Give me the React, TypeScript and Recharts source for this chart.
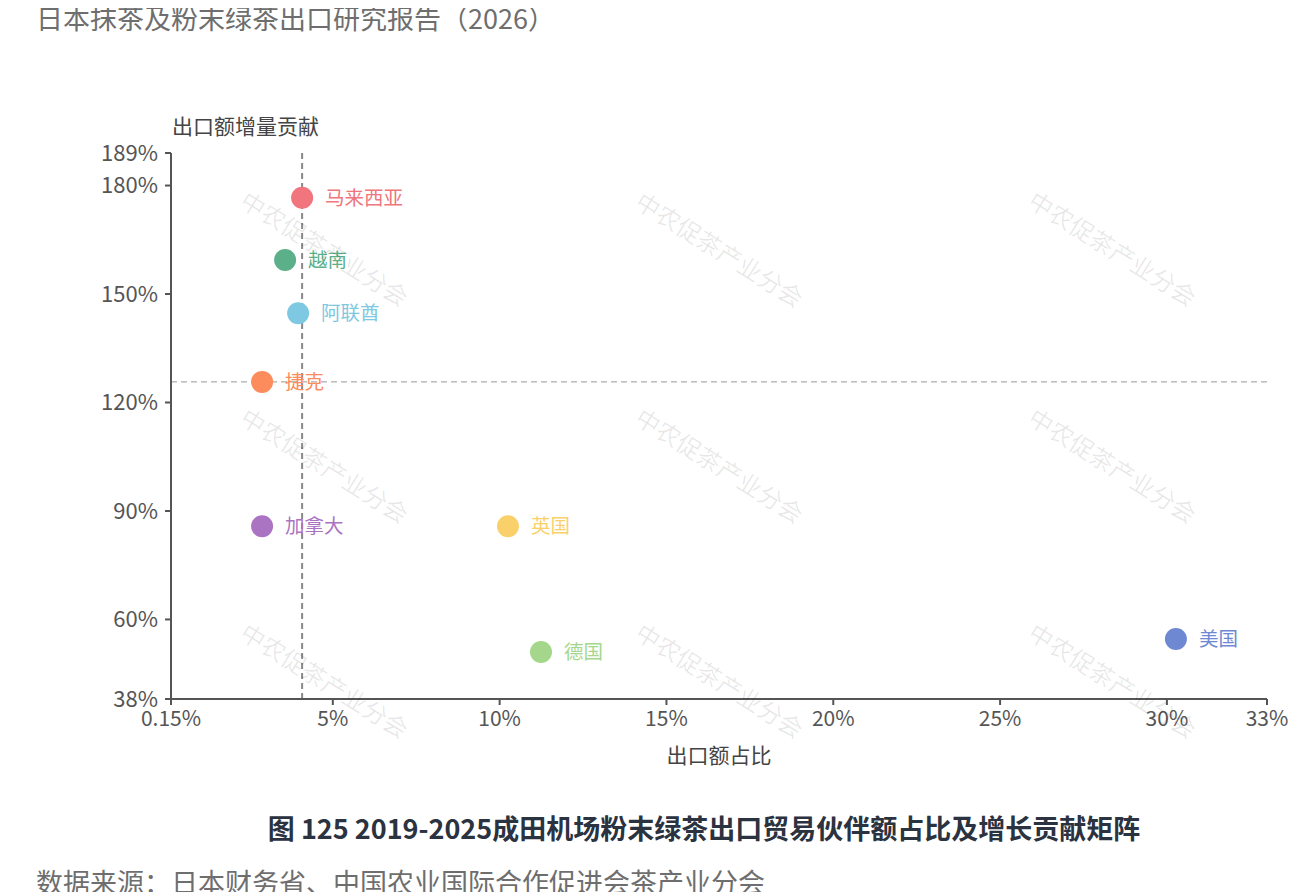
import React from 'react';
import { ScatterChart, Scatter, XAxis, YAxis, ReferenceLine, Cell, LabelList } from 'recharts';

const countries = ['美国', '英国', '德国', '加拿大', '马来西亚', '越南', '阿联酋', '捷克'];
const exportShare = [30.27, 10.25, 11.24, 2.88, 4.08, 3.57, 3.96, 2.88];
const growthContribution = [54.6, 85.8, 51.0, 85.8, 176.6, 159.4, 144.7, 125.7];
const pointColors = ['#6f88d2', '#fad06b', '#a4d78b', '#ab74c2', '#f0757c', '#5bb08a', '#7ec8e2', '#fc8c5c'];
const xTicks = [0.15, 5, 10, 15, 20, 25, 30, 33];
const yTicks = [38, 60, 90, 120, 150, 180, 189];
const shareRefValue = 4.08;
const growthRefValue = 125.7;

const data = countries.map((name, i) => ({
  name,
  share: exportShare[i],
  growth: growthContribution[i],
  color: pointColors[i],
}));

const FONT = '"Noto Sans CJK SC", "Noto Sans", sans-serif';

const watermarkCenters = [
  [317, 240], [712, 241], [1105, 240],
  [317, 457], [712, 457], [1105, 457],
  [317, 672], [712, 672], [1105, 672],
];

const Dot = (props: any) => {
  const { cx, cy, payload } = props;
  return <circle cx={cx} cy={cy} r={11} fill={payload.color} />;
};

const PointLabel = (props: any) => {
  const { x, y, width, height, index } = props;
  const cx = x + width / 2;
  const cy = y + height / 2;
  return (
    <text x={cx + 23} y={cy} dy="0.35em" fill={pointColors[index]} fontSize={19.5} fontFamily={FONT}>
      {countries[index]}
    </text>
  );
};

export default function App() {
  return (
    <div style={{ position: 'relative', width: 1300, height: 884, fontFamily: FONT, background: '#fff' }}>
      <div style={{ position: 'absolute', left: 28, top: -5, fontSize: 27, lineHeight: '30px', color: '#6e6e6e', whiteSpace: 'nowrap' }}>
        日本抹茶及粉末绿茶出口研究报告（2026）
      </div>
      <div style={{ position: 'absolute', left: 0, top: 0 }}>
        <ScatterChart width={1300} height={780} margin={{ top: 145, right: 41, left: 63, bottom: 49 }}>
          <XAxis
            type="number"
            dataKey="share"
            domain={[0.15, 33]}
            ticks={xTicks}
            interval={0}
            allowDataOverflow
            tickFormatter={(v: number) => `${v}%`}
            tick={{ fill: '#555', fontSize: 21, fontFamily: FONT }}
            tickLine={{ stroke: '#555', strokeWidth: 2 }}
            axisLine={{ stroke: '#555', strokeWidth: 2 }}
            tickSize={6}
            tickMargin={6}
            height={40}
          />
          <YAxis
            type="number"
            dataKey="growth"
            domain={[38, 189]}
            ticks={yTicks}
            interval={0}
            allowDataOverflow
            tickFormatter={(v: number) => `${v}%`}
            tick={{ fill: '#555', fontSize: 22, fontFamily: FONT }}
            tickLine={{ stroke: '#555', strokeWidth: 2 }}
            axisLine={{ stroke: '#555', strokeWidth: 2 }}
            tickSize={6}
            tickMargin={7}
            width={100}
          />
          <Scatter data={data} shape={<Dot />} isAnimationActive={false}>
            {data.map((d, i) => (
              <Cell key={i} fill={d.color} />
            ))}
            <LabelList dataKey="name" content={<PointLabel />} />
          </Scatter>
          <ReferenceLine x={shareRefValue} stroke="#888" strokeWidth={2} strokeDasharray="6 4" />
          <ReferenceLine y={growthRefValue} stroke="#999" strokeWidth={1} strokeDasharray="6 4" />
        </ScatterChart>
      </div>
      <div style={{ position: 'absolute', left: 164, top: 104, fontSize: 21, lineHeight: '26px', color: '#444', whiteSpace: 'nowrap' }}>
        出口额增量贡献
      </div>
      <div style={{ position: 'absolute', left: 611, width: 200, textAlign: 'center', top: 733, fontSize: 21, lineHeight: '26px', color: '#444', whiteSpace: 'nowrap' }}>
        出口额占比
      </div>
      {watermarkCenters.map(([cx, cy], i) => (
        <div
          key={i}
          style={{
            position: 'absolute',
            left: cx - 110,
            top: cy - 15,
            width: 220,
            height: 30,
            lineHeight: '30px',
            textAlign: 'center',
            fontSize: 24,
            color: 'rgba(0,0,0,0.09)',
            transform: 'rotate(32deg)',
            pointerEvents: 'none',
            whiteSpace: 'nowrap',
          }}
        >
          中农促茶产业分会
        </div>
      ))}
      <div style={{ position: 'absolute', left: 0, width: 1392, textAlign: 'center', top: 805, fontSize: 27, fontWeight: 700, lineHeight: '30px', color: '#2b3240', whiteSpace: 'nowrap' }}>
        图 125 2019-2025成田机场粉末绿茶出口贸易伙伴额占比及增长贡献矩阵
      </div>
      <div style={{ position: 'absolute', left: 28, top: 859, fontSize: 27, lineHeight: '30px', color: '#6e6e6e', whiteSpace: 'nowrap' }}>
        数据来源：日本财务省、中国农业国际合作促进会茶产业分会
      </div>
    </div>
  );
}
